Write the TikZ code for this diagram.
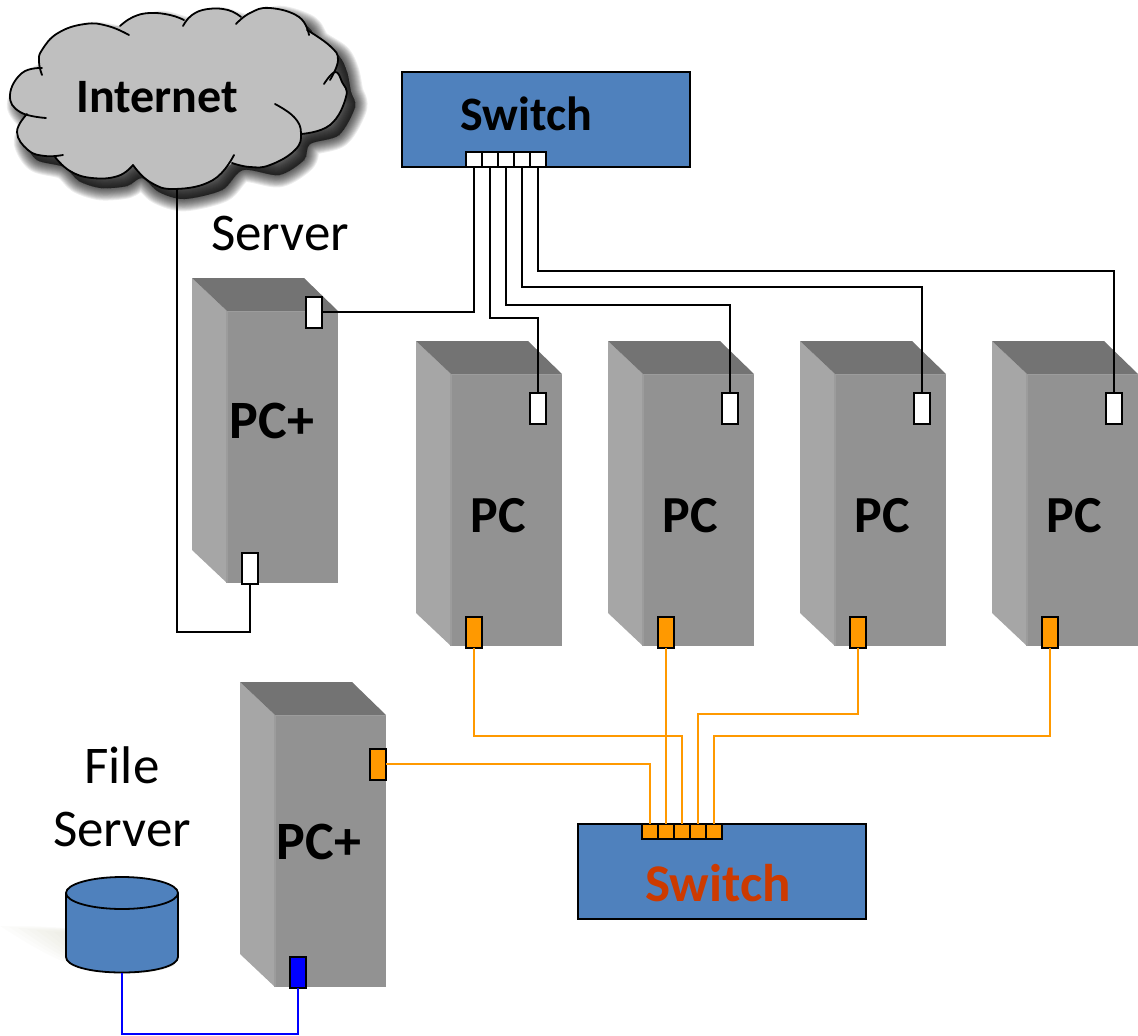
\documentclass[tikz,border=0pt]{standalone}
\usepackage{fontspec}
\setmainfont{Carlito}
\usetikzlibrary{shapes.geometric}
\definecolor{swblue}{HTML}{4F81BD}
\definecolor{wireorange}{HTML}{FF9900}
\definecolor{redtxt}{HTML}{CC3A00}
\definecolor{cloudgrey}{HTML}{BFBFBF}
\definecolor{twtop}{HTML}{737373}
\definecolor{twleft}{HTML}{A6A6A6}
\definecolor{twfront}{HTML}{929292}
\definecolor{twedge}{HTML}{9C9C9C}
\definecolor{floorshade}{HTML}{BDBDA0}
\tikzset{
  portbox/.style={draw=black,line width=2pt,minimum width=16pt,minimum height=31pt,inner sep=0pt,outer sep=0pt},
  whiteport/.style={portbox,fill=white},
  orangeport/.style={portbox,fill=wireorange},
  blueport/.style={portbox,fill=blue},
  cellw/.style={draw=black,line width=2pt,fill=white,minimum width=16pt,minimum height=15pt,inner sep=0pt,outer sep=0pt},
  cello/.style={cellw,fill=wireorange},
  switchbox/.style={draw=black,line width=2pt,fill=swblue,minimum width=288pt,minimum height=95pt,inner sep=0pt,outer sep=0pt},
  blk/.style={draw=black,line width=2pt},
  org/.style={draw=wireorange,line width=2pt},
  blu/.style={draw=blue,line width=2pt},
  boldpc/.style={font=\fontsize{52}{56}\selectfont\bfseries,inner sep=0pt},
  boldplus/.style={font=\fontsize{54}{58}\selectfont\bfseries,inner sep=0pt},
  boldsw/.style={font=\fontsize{48}{52}\selectfont\bfseries,inner sep=0pt},
  plainlabel/.style={font=\fontsize{53}{57}\selectfont,inner sep=0pt},
  lobe/.style={draw=black,line width=1.8pt,line cap=round},
}
\newcommand{\towerbody}[2]{%
  \begin{scope}[shift={(#1,#2)}]
    \fill[twleft] (0,0) -- (35,33) -- (35,305) -- (0,272) -- cycle;
    \fill[twtop] (0,0) -- (112,0) -- (146,33) -- (35,33) -- cycle;
    \fill[twfront] (35,33) -- (146,33) -- (146,305) -- (35,305) -- cycle;
    \draw[twedge,line width=2pt] (35,33) -- (35,305);
    \draw[twedge,line width=1pt] (35,33) -- (146,33);
  \end{scope}}
\newcommand{\lobefill}[1]{\fill[cloudgrey] plot[smooth,tension=0.75] coordinates {#1} -- cycle;}
\newcommand{\lobeline}[1]{\draw[lobe] plot[smooth,tension=0.75] coordinates {#1};}
\begin{document}
\begin{tikzpicture}[x=1pt,y=-1pt]
\useasboundingbox (0,0) rectangle (1138,1036);
% faint floor shadow by the disk
\foreach \w in {0,...,6}{
  \fill[floorshade,opacity=.04] ({0+\w*9},{926+\w}) .. controls ({50+\w*4},{925+\w}) and (120,930) .. (150,945) -- (175,965) .. controls (150,977) and ({110},{976-\w}) .. ({80+\w*3},{968-\w}) .. controls ({50+\w*4},{958-\w}) and ({25+\w*7},{942}) .. cycle;
}
% cloud shadow
\begin{scope}[shift={(9,10)}]
\foreach \w in {0,...,13}{
  \draw[black,opacity=.07,fill=black,line width={(13-\w)*1.9pt},line join=round]
    plot[smooth cycle,tension=0.5] coordinates {(10,95) (22,73) (42,60) (58,33) (85,24) (129,30) (150,13) (184,20) (208,9) (241,17) (270,8) (299,17) (309,32) (330,46) (338,62) (342,82) (346,97) (330,125) (301,134) (295,150) (270,165) (234,160) (213,180) (175,189) (150,182) (133,168) (118,176) (92,178) (70,171) (55,157) (28,150) (17,132) (22,114)};
}
\end{scope}
% cloud body
\def\La{(42,68) (22,73) (10,95) (20,112) (46,118)}
\def\Lb{(27,114) (17,132) (28,150) (45,156) (63,155)}
\def\Lc{(55,157) (70,171) (92,178) (118,176) (133,165)}
\def\Ld{(133,165) (150,182) (175,189) (213,180) (234,155)}
\def\Le{(232,163) (250,167) (270,165) (295,150) (301,133) (294,117) (275,104)}
\def\Lf{(301,134) (330,125) (346,97) (342,82) (335,72) (324,84)}
\def\Lg{(330,80) (338,60) (330,46) (307,30)}
\def\Lh{(309,35) (299,17) (270,8) (250,13) (236,24)}
\def\Li{(241,17) (228,10) (208,9) (192,15) (183,26)}
\def\Lj{(184,20) (170,15) (150,13) (133,17) (120,26)}
\def\Lk{(129,35) (108,26) (85,24) (58,33) (42,50) (39,62) (42,75)}
\foreach \p in {\La,\Lb,\Lc,\Ld,\Le,\Lf,\Lg,\Lh,\Li,\Lj,\Lk}{
  \expandafter\lobefill\expandafter{\p}
}
\fill[cloudgrey] (39,62) -- (42,50) -- (58,33) -- (85,24) -- (108,26) -- (120,26) -- (133,17) -- (150,13) -- (170,15) -- (184,20) -- (192,15) -- (208,9) -- (228,10) -- (241,17) -- (250,13) -- (270,8) -- (299,17) -- (309,35) -- (330,46) -- (338,60) -- (335,72) -- (342,82) -- (346,97) -- (330,125) -- (301,134) -- (295,150) -- (270,165) -- (250,167) -- (232,163) -- (213,180) -- (175,189) -- (150,182) -- (133,165) -- (118,176) -- (92,178) -- (70,171) -- (55,157) -- (45,156) -- (28,150) -- (17,132) -- (27,114) -- (20,112) -- (10,95) -- (22,73) -- (42,68) -- cycle;
\foreach \p in {\La,\Lb,\Lc,\Ld,\Le,\Lf,\Lg,\Lh,\Li,\Lj,\Lk}{
  \expandafter\lobeline\expandafter{\p}
}
\node[boldsw] (internet) at (157,97) {Internet};
\coordinate (cloudbottom) at (177,189);

% towers
\towerbody{192}{278}
\towerbody{416}{341}
\towerbody{608}{341}
\towerbody{800}{341}
\towerbody{992}{341}
\towerbody{240}{682}
\node[boldplus] (pcplusA) at (272,421) {PC+};
\node[boldpc] (pcA) at (498,516) {PC};
\node[boldpc] (pcB) at (690,516) {PC};
\node[boldpc] (pcC) at (882,516) {PC};
\node[boldpc] (pcD) at (1074,516) {PC};
\node[boldplus] (pcplusB) at (319,842) {PC+};

% switches
\node[switchbox] (swA) at (546,119.5) {};
\node[boldsw,text=black] (swAlabel) at (526,114) {Switch};
\node[switchbox] (swB) at (722,871.5) {};
\node[boldsw,text=redtxt,font=\fontsize{53}{57}\selectfont\bfseries] (swBlabel) at (718,883) {Switch};
\foreach \n/\x in {1/474,2/490,3/506,4/522,5/538}
  \node[cellw] (a\n) at (\x,159.5) {};
\foreach \n/\x in {1/650,2/666,3/682,4/698,5/714}
  \node[cello] (b\n) at (\x,831.5) {};

% ports
\node[whiteport] (srvtop) at (314,312) {};
\node[whiteport] (srvbot) at (250,568) {};
\node[whiteport] (wA) at (538,408) {};
\node[whiteport] (wB) at (730,408) {};
\node[whiteport] (wC) at (922,408) {};
\node[whiteport] (wD) at (1114,408) {};
\node[orangeport] (oA) at (474,632) {};
\node[orangeport] (oB) at (666,632) {};
\node[orangeport] (oC) at (858,632) {};
\node[orangeport] (oD) at (1050,632) {};
\node[orangeport] (oF) at (378,764) {};
\node[blueport] (bF) at (298,972) {};

% disk
\fill[swblue] (66,893) -- (66,957) .. controls (66,966) and (90,972.5) .. (122,972.5) .. controls (154,972.5) and (178,966) .. (178,957) -- (178,893) -- cycle;
\draw[black,line width=1.8pt] (66,893) -- (66,957) .. controls (66,966) and (90,972.5) .. (122,972.5) .. controls (154,972.5) and (178,966) .. (178,957) -- (178,893);
\node[draw=black,fill=swblue,line width=1.8pt,ellipse,minimum width=112pt,minimum height=32pt,inner sep=0pt,outer sep=0pt] (disktop) at (122,893) {};
\coordinate (diskbottom) at (122,972.5);

% labels
\node[plainlabel] (srvlabel) at (280,233) {Server};
\node[plainlabel] (filelabel) at (122,765) {File};
\node[plainlabel] (fslabel) at (122,829) {Server};

% black wires
\draw[blk] (cloudbottom) |- (205,632) -| (srvbot.south);
\draw[blk] (a1.south) |- (srvtop.east);
\draw[blk] (a2.south) |- (538,318) -- (wA.north);
\draw[blk] (a3.south) |- (730,305) -- (wB.north);
\draw[blk] (a4.south) |- (922,287) -- (wC.north);
\draw[blk] (a5.south) |- (1114,271) -- (wD.north);
% orange wires
\draw[org] (oA.south) |- (682,736) -- (b3.north);
\draw[org] (oB.south) -- (b2.north);
\draw[org] (oC.south) |- (698,714) -- (b4.north);
\draw[org] (oD.south) |- (714,736) -- (b5.north);
\draw[org] (oF.east) -| (b1.north);
% blue wire
\draw[blu] (diskbottom) |- (210,1034) -| (bF.south);
\end{tikzpicture}
\end{document}
